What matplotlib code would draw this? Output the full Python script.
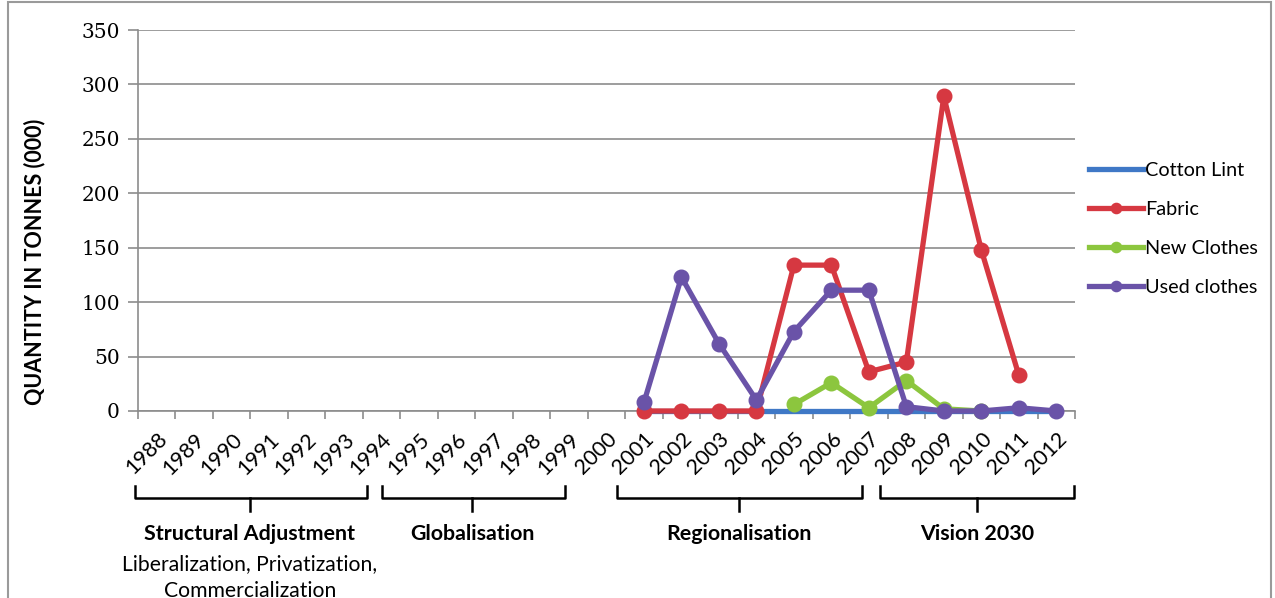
import matplotlib
matplotlib.use("Agg")
import matplotlib.pyplot as plt
from matplotlib.lines import Line2D
from matplotlib.patches import Rectangle
import numpy as np

years = [str(y) for y in range(1988, 2013)]

# Series values, thousands of tonnes (None = no data)
cotton_lint = [None] * 13 + [0, 0, 0, 0, 0, 0, 0, 0, 0, 0, 0, 0]
fabric = [None] * 13 + [0, 0, 0, 0, 134, 134, 36, 45, 289, 148, 33, None]
new_clothes = [None] * 17 + [6, 26, 3, 28, 2, 0, None, None]
used_clothes = [None] * 13 + [8, 123, 62, 10, 73, 111, 111, 4, 0, 0, 3, 0]

periods = ["Structural Adjustment", "Globalisation", "Regionalisation", "Vision 2030"]
period_notes = ["Liberalization, Privatization,\nCommercialization", "", "", ""]

W, H = 1275, 598
fig = plt.figure(figsize=(W / 100, H / 100), dpi=100)
fig.patch.set_facecolor("white")

def fx(px):
    return px / W

def fy(py):
    return 1 - py / H

ax = fig.add_axes([fx(138), fy(411), fx(1075) - fx(138), fy(30) - fy(411)])

SANS = ["Lato", "DejaVu Sans"]
GRID = "#8c8c8c"

x = np.arange(len(years))

def series(vals):
    return np.array([np.nan if v is None else v for v in vals], dtype=float)

LW, MS = 3.8, 10.5
ax.plot(x, series(cotton_lint), color="#3f78c6", lw=LW, label="Cotton Lint",
        zorder=3, clip_on=False)
ax.plot(x, series(fabric), color="#d63841", lw=LW, marker="o", ms=MS,
        label="Fabric", zorder=4, clip_on=False)
ax.plot(x, series(new_clothes), color="#8cc63e", lw=LW, marker="o", ms=MS,
        label="New Clothes", zorder=5, clip_on=False)
ax.plot(x, series(used_clothes), color="#6a53a8", lw=LW, marker="o", ms=MS,
        label="Used clothes", zorder=6, clip_on=False)

ax.set_xlim(-0.5, len(years) - 0.5)
ax.set_ylim(0, 350)
ax.set_yticks(np.arange(0, 351, 50))
ax.yaxis.grid(True, color=GRID, lw=1.2)
ax.set_axisbelow(True)
for side in ("top", "right"):
    ax.spines[side].set_visible(False)
for side in ("left", "bottom"):
    ax.spines[side].set_color(GRID)
    ax.spines[side].set_linewidth(1.2)

ax.tick_params(axis="y", length=7, color=GRID, width=1.2, labelsize=14.5, pad=6)
for lab in ax.get_yticklabels():
    lab.set_family("DejaVu Serif")

ax.set_xticks(x)
ax.set_xticklabels(years, rotation=45, ha="right", rotation_mode="anchor",
                   fontsize=15.5, family=SANS)
ax.tick_params(axis="x", length=0, pad=13)
ax.set_xticks(np.arange(-0.5, len(years), 1), minor=True)
ax.tick_params(axis="x", which="minor", length=6, color=GRID, width=1.2)

fig.text(fx(35), fy(262), "QUANTITY IN TONNES (000)", rotation=90,
         ha="center", va="center", fontsize=15.5, fontweight="bold", family=SANS)

handles, labels = ax.get_legend_handles_labels()
leg = fig.legend(handles, labels, loc="center left",
                 bbox_to_anchor=(fx(1071), fy(229)), frameon=False,
                 prop={"family": SANS, "size": 14.3}, handlelength=2.7,
                 handletextpad=0.15, labelspacing=1.12, markerscale=0.7)

# Period brackets under the year labels
brackets = [(135, 367, 250), (382, 565, 472), (617, 862, 739), (880, 1074, 977)]
for (x0, x1, xc), name, note in zip(brackets, periods, period_notes):
    fig.add_artist(Line2D([fx(x0), fx(x0), fx(x1), fx(x1)],
                          [fy(486), fy(498), fy(498), fy(486)],
                          color="black", lw=1.8))
    fig.add_artist(Line2D([fx(xc), fx(xc)], [fy(498), fy(511)],
                          color="black", lw=1.8))
    fig.text(fx(xc), fy(534), name, ha="center", va="center", fontsize=15.4,
             fontweight="bold", family=SANS)
    if note:
        fig.text(fx(xc), fy(554), note, ha="center", va="top", fontsize=15.2,
                 family=SANS, linespacing=1.45)

# Outer chart frame
fig.add_artist(Rectangle((fx(8), fy(610)), fx(1271) - fx(8), fy(2) - fy(610),
                         transform=fig.transFigure, fill=False,
                         edgecolor="#9a9a9a", lw=1.5))

fig.savefig("out.png", dpi=100, facecolor="white")
